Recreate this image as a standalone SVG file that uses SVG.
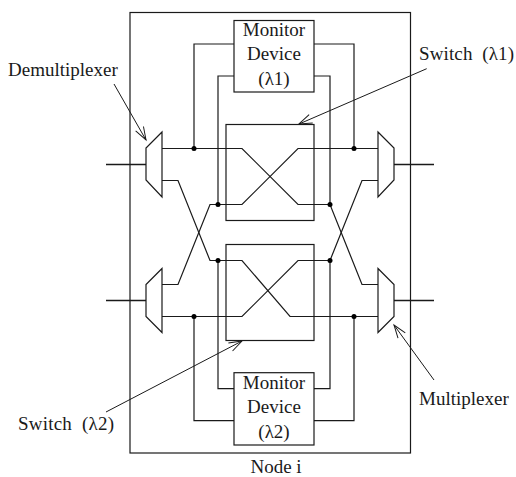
<svg xmlns="http://www.w3.org/2000/svg" width="516" height="477" viewBox="0 0 516 477">
<style>
.l{fill:none;stroke:#1a1a1a;stroke-width:1.2;stroke-linejoin:miter}
.b{fill:none;stroke:#1a1a1a;stroke-width:1.6}
.a{fill:none;stroke:#1a1a1a;stroke-width:1}
.d{fill:#000;stroke:none}
text{font-family:"Liberation Serif","Times New Roman",serif;font-size:19px;fill:#1a1a1a}
.m{text-anchor:middle}
</style>
<defs>
<marker id="v" markerUnits="userSpaceOnUse" markerWidth="16" markerHeight="12" refX="14" refY="6" orient="auto" viewBox="0 0 16 12"><path d="M1 1.500L14 6L1 10.500" fill="none" stroke="#1a1a1a" stroke-width="1"/></marker>
</defs>
<rect id="node-i" x="130" y="12.5" width="280.5" height="440.5" class="l"/>
<g id="connectors">
<path class="l" d="M162 148.5H242L298 204.5H330L362 284.5H378"/>
<path class="l" d="M162 180.5H178L210 260.5H242L290 316.5H378"/>
<path class="l" d="M162 284.5H178L210 204.5H242L298 148.5H378"/>
<path class="l" d="M162 316.5H242L298 260.5H330L362 180.5H378"/>
<path class="l" d="M194 148.5V44H234M218 204.5V76H234M354 148.5V44H314M330 204.5V76H314"/>
<path class="l" d="M218 260.5V388.7H234M194 316.5V420.7H234M330 260.5V388.7H314M354 316.5V420.7H314"/>
<path class="b" d="M106 164.5H146M394 164.5H434M106 300.5H146M394 300.5H434"/>
<circle class="d" cx="194" cy="148.5" r="2.5"/><circle class="d" cx="354" cy="148.5" r="2.5"/>
<circle class="d" cx="218" cy="204.5" r="2.5"/><circle class="d" cx="330" cy="204.5" r="2.5"/>
<circle class="d" cx="218" cy="260.5" r="2.5"/><circle class="d" cx="330" cy="260.5" r="2.5"/>
<circle class="d" cx="194" cy="316.5" r="2.5"/><circle class="d" cx="354" cy="316.5" r="2.5"/>
<path class="a" marker-end="url(#v)" d="M114 84L146 140"/>
<path class="a" marker-end="url(#v)" d="M426.700 68.700L299 124"/>
<path class="a" marker-end="url(#v)" d="M106 412L242 341"/>
<path class="a" marker-end="url(#v)" d="M434 380L394 325"/>
</g>
<g id="monitor1"><rect class="l" x="234" y="20.500" width="80" height="71.500"/><text class="m" x="274" y="36">Monitor</text><text class="m" x="274" y="60">Device</text><text class="m" x="274" y="84.500">(λ1)</text></g>
<g id="monitor2"><rect class="l" x="234" y="372.700" width="80" height="72.300"/><text class="m" x="274" y="389">Monitor</text><text class="m" x="274" y="413">Device</text><text class="m" x="274" y="437.500">(λ2)</text></g>
<g id="switch1"><rect class="l" x="226" y="124.500" width="88" height="96"/></g>
<g id="switch2"><rect class="l" x="226" y="244.500" width="88" height="96"/></g>
<g id="demux1"><path class="l" d="M162 132L146 148V180L162 197Z"/></g>
<g id="demux2"><path class="l" d="M162 268.500L146 284.500V316.500L162 332.500Z"/></g>
<g id="mux1"><path class="l" d="M378 132L394 148V180L378 197Z"/></g>
<g id="mux2"><path class="l" d="M378 268.500L394 284.500V316.500L378 332.500Z"/></g>
<text id="lab-demux" x="8" y="76">Demultiplexer</text>
<text id="lab-sw1" x="419" y="59.500" xml:space="preserve" textLength="95">Switch  (λ1)</text>
<text id="lab-sw2" x="18" y="429.500" xml:space="preserve" textLength="96">Switch  (λ2)</text>
<text id="lab-mux" x="419" y="404.500">Multiplexer</text>
<text id="lab-node" class="m" x="276" y="473">Node i</text>
</svg>
